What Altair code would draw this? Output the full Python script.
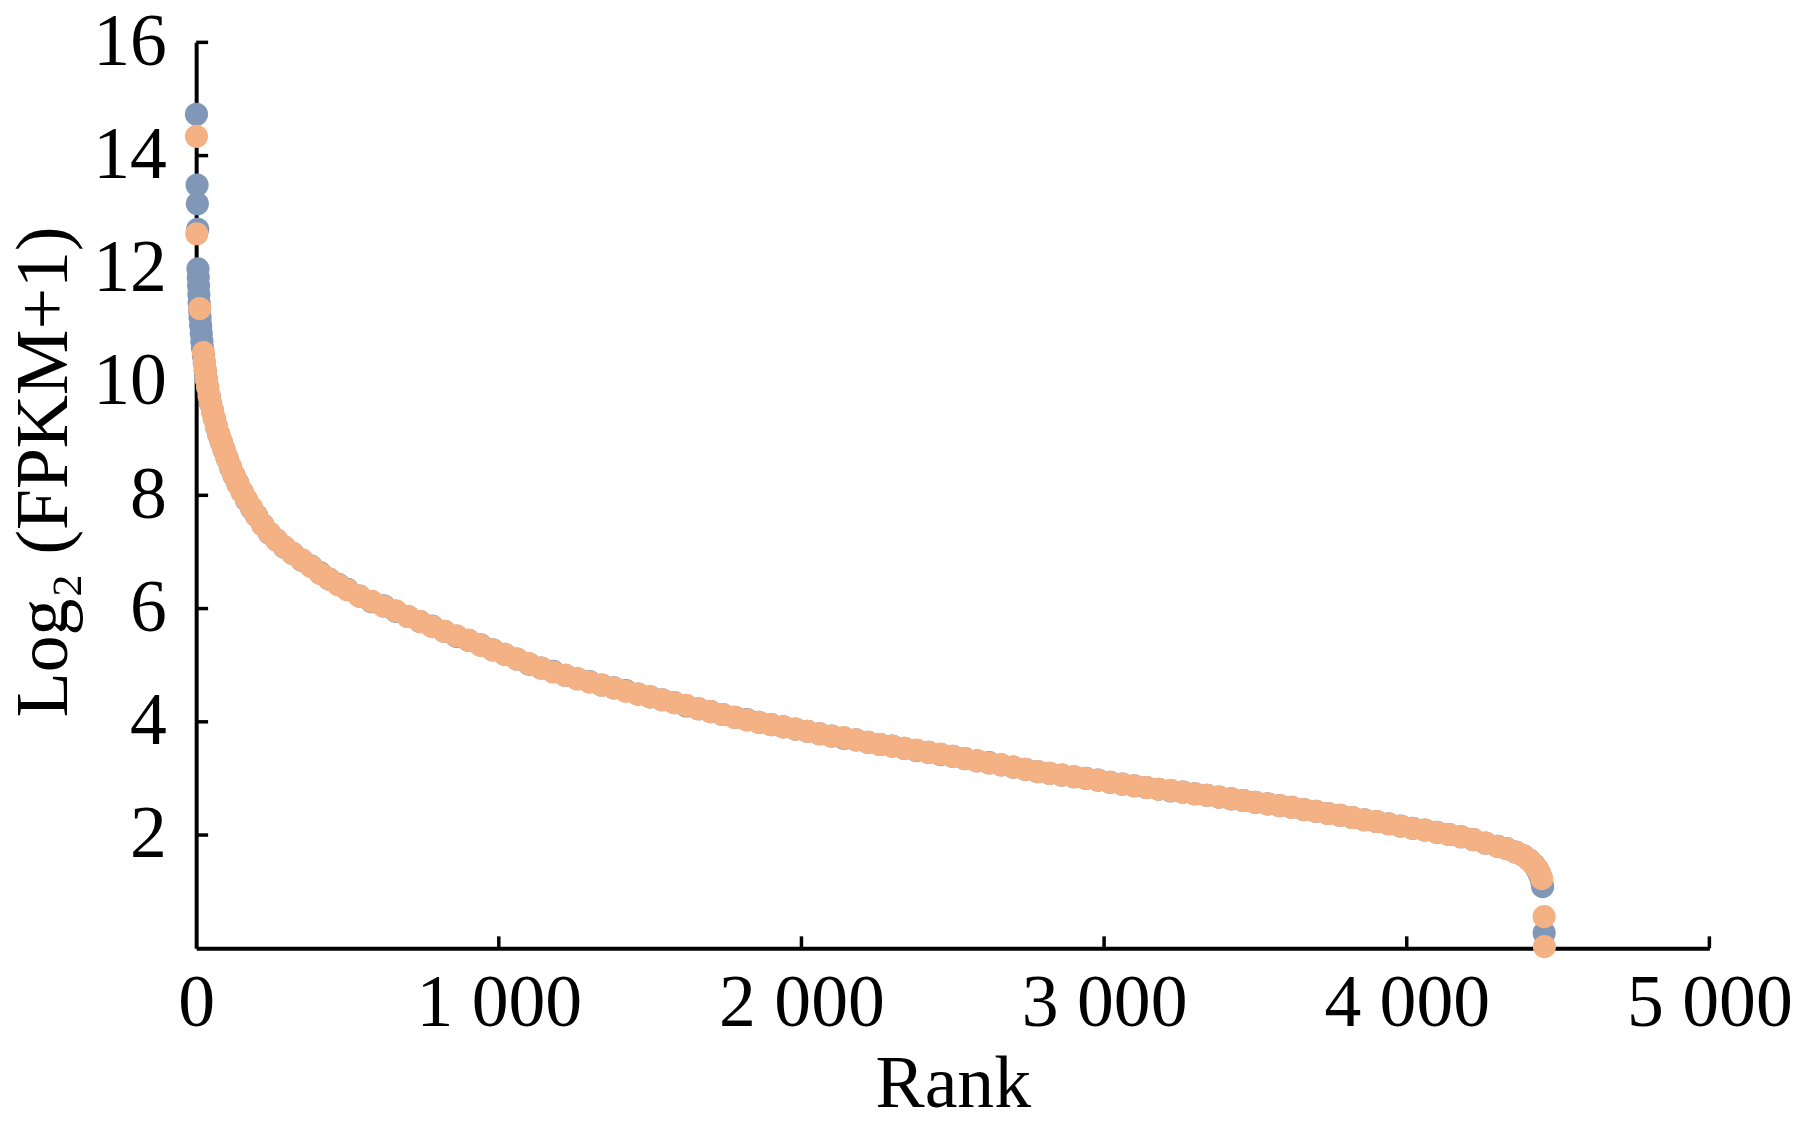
import altair as alt
import pandas as pd

# ---- data ----
blue_rank = [1, 3, 4, 5, 6, 7, 8, 9, 10, 11, 13, 15, 17, 19, 21, 24, 27, 30, 34, 38, 43, 48, 54, 60, 67, 75, 83, 92,
             102, 113, 125, 138, 152, 167, 183, 200, 220, 242, 266, 292, 320, 350, 380, 410, 440, 470, 500, 540, 580,
             620, 660, 700, 740, 780, 820, 860, 900, 940, 980, 1020, 1060, 1100, 1140, 1180, 1220, 1260, 1300, 1340,
             1380, 1420, 1460, 1500, 1540, 1580, 1620, 1660, 1700, 1740, 1780, 1820, 1860, 1900, 1940, 1980, 2020,
             2060, 2100, 2140, 2180, 2220, 2260, 2300, 2340, 2380, 2420, 2460, 2500, 2540, 2580, 2620, 2660, 2700,
             2740, 2780, 2820, 2860, 2900, 2940, 2980, 3020, 3060, 3100, 3140, 3180, 3220, 3260, 3300, 3340, 3380,
             3420, 3460, 3500, 3540, 3580, 3620, 3660, 3700, 3740, 3780, 3820, 3860, 3900, 3940, 3980, 4020, 4060,
             4100, 4140, 4180, 4220, 4260, 4300, 4330, 4360, 4385, 4405, 4420, 4432, 4440, 4446, 4449, 4454]
blue_value = [14.73, 13.48, 13.15, 12.70, 12.00, 11.85, 11.70, 11.55, 11.40, 11.27, 11.14, 11.00, 10.86, 10.72,
              10.60, 10.47, 10.34, 10.20, 10.04, 9.90, 9.75, 9.62, 9.49, 9.36, 9.21, 9.07, 8.94, 8.81,
              8.66, 8.50, 8.35, 8.21, 8.06, 7.91, 7.77, 7.64, 7.48, 7.33, 7.21, 7.08, 6.97, 6.85, 6.75, 6.63,
              6.52, 6.43, 6.34, 6.22, 6.12, 6.05, 5.95, 5.86, 5.77, 5.69, 5.60, 5.51, 5.44, 5.36, 5.27, 5.19,
              5.11, 5.02, 4.95, 4.89, 4.82, 4.76, 4.71, 4.65, 4.60, 4.55, 4.49, 4.44, 4.39, 4.34, 4.28, 4.23,
              4.18, 4.13, 4.08, 4.04, 3.99, 3.95, 3.91, 3.87, 3.83, 3.79, 3.75, 3.71, 3.68, 3.64, 3.60, 3.57,
              3.53, 3.49, 3.46, 3.42, 3.39, 3.35, 3.31, 3.28, 3.24, 3.20, 3.16, 3.12, 3.09, 3.06, 3.03, 3.00,
              2.97, 2.93, 2.90, 2.87, 2.84, 2.81, 2.78, 2.76, 2.73, 2.70, 2.67, 2.64, 2.61, 2.58, 2.55, 2.52,
              2.49, 2.45, 2.42, 2.38, 2.35, 2.31, 2.27, 2.24, 2.20, 2.16, 2.12, 2.09, 2.05, 2.01, 1.97, 1.92,
              1.86, 1.80, 1.76, 1.70, 1.64, 1.56, 1.48, 1.38, 1.28, 1.18, 1.09, 0.27]

orange_rank = [1, 2, 12, 24, 27, 30, 34, 38, 43, 48, 54, 60, 67, 75, 83, 92, 102, 113, 125, 138, 152, 167, 183, 200,
               220, 242, 266, 292, 320, 350, 380, 410, 440, 470, 500, 540, 580, 620, 660, 700, 740, 780, 820, 860,
               900, 940, 980, 1020, 1060, 1100, 1140, 1180, 1220, 1260, 1300, 1340, 1380, 1420, 1460, 1500, 1540,
               1580, 1620, 1660, 1700, 1740, 1780, 1820, 1860, 1900, 1940, 1980, 2020, 2060, 2100, 2140, 2180, 2220,
               2260, 2300, 2340, 2380, 2420, 2460, 2500, 2540, 2580, 2620, 2660, 2700, 2740, 2780, 2820, 2860, 2900,
               2940, 2980, 3020, 3060, 3100, 3140, 3180, 3220, 3260, 3300, 3340, 3380, 3420, 3460, 3500, 3540, 3580,
               3620, 3660, 3700, 3740, 3780, 3820, 3860, 3900, 3940, 3980, 4020, 4060, 4100, 4140, 4180, 4220, 4260,
               4300, 4330, 4360, 4385, 4405, 4420, 4432, 4440, 4446, 4454, 4455]
orange_value = [14.34, 12.62, 11.30, 10.52, 10.36, 10.22, 10.05, 9.92, 9.76, 9.62, 9.48, 9.36, 9.22, 9.08, 8.95,
                8.80, 8.66, 8.51, 8.36, 8.20, 8.06, 7.92, 7.78, 7.63, 7.48, 7.34, 7.21, 7.09, 6.97, 6.86, 6.74,
                6.62, 6.52, 6.42, 6.33, 6.22, 6.13, 6.04, 5.96, 5.86, 5.77, 5.68, 5.60, 5.52, 5.44, 5.35, 5.27,
                5.19, 5.11, 5.03, 4.95, 4.88, 4.82, 4.76, 4.70, 4.65, 4.60, 4.54, 4.49, 4.44, 4.39, 4.34, 4.29,
                4.23, 4.18, 4.13, 4.08, 4.03, 3.99, 3.95, 3.91, 3.87, 3.83, 3.79, 3.75, 3.72, 3.68, 3.64, 3.60,
                3.57, 3.53, 3.50, 3.46, 3.43, 3.39, 3.35, 3.31, 3.27, 3.24, 3.20, 3.16, 3.12, 3.09, 3.06, 3.03,
                3.00, 2.97, 2.93, 2.90, 2.87, 2.84, 2.81, 2.79, 2.76, 2.73, 2.70, 2.67, 2.64, 2.61, 2.58, 2.55,
                2.52, 2.49, 2.45, 2.42, 2.38, 2.35, 2.31, 2.27, 2.24, 2.20, 2.16, 2.12, 2.09, 2.05, 2.01, 1.97,
                1.92, 1.86, 1.80, 1.76, 1.70, 1.64, 1.56, 1.48, 1.40, 1.32, 1.23, 0.56, 0.03]

x_ticks = [1000, 2000, 3000, 4000, 5000]
y_ticks = [2, 4, 6, 8, 10, 12, 14, 16]

BLUE = "#8097B8"
ORANGE = "#F4B183"
FONT = "Liberation Serif"

blue_df = pd.DataFrame({"rank": blue_rank, "value": blue_value})
orange_df = pd.DataFrame({"rank": orange_rank, "value": orange_value})
xt_df = pd.DataFrame({"t": x_ticks})
yt_df = pd.DataFrame({"t": y_ticks})

W, H = 1520, 910
xscale = alt.Scale(domain=[0, 5000], nice=False, zero=False)
yscale = alt.Scale(domain=[0, 16], nice=False)

x_axis = alt.Axis(
    title="Rank", values=[0, 1000, 2000, 3000, 4000, 5000],
    labelExpr="replace(format(datum.value, ','), ',', ' ')",
    grid=False, ticks=False, tickSize=0, domain=True, domainColor="black", domainWidth=4,
    labelFont=FONT, labelFontSize=74, labelColor="black", labelPadding=20,
    titleFont=FONT, titleFontSize=74, titleFontWeight="normal", titleColor="black", titlePadding=8,
    labelFlush=False, labelOverlap=False,
)
y_axis = alt.Axis(
    title="Log₂ (FPKM+1)", values=y_ticks, format="d",
    grid=False, ticks=False, tickSize=0, domain=True, domainColor="black", domainWidth=4,
    labelFont=FONT, labelFontSize=74, labelColor="black", labelPadding=30,
    titleFont=FONT, titleFontSize=74, titleFontWeight="normal", titleColor="black", titlePadding=10,
    titleY=H / 2 - 24,
    labelFlush=False, labelOverlap=False,
)

blue = alt.Chart(blue_df).mark_circle(size=540, opacity=1, color=BLUE).encode(
    x=alt.X("rank:Q", scale=xscale, axis=x_axis),
    y=alt.Y("value:Q", scale=yscale, axis=y_axis),
)
orange = alt.Chart(orange_df).mark_circle(size=540, opacity=1, color=ORANGE).encode(
    x=alt.X("rank:Q", scale=xscale),
    y=alt.Y("value:Q", scale=yscale),
)
xticks = alt.Chart(xt_df).mark_rule(color="black", strokeWidth=3.5).encode(
    x=alt.X("t:Q", scale=xscale),
    y=alt.value(H),
    y2=alt.value(H - 12),
)
yticks = alt.Chart(yt_df).mark_rule(color="black", strokeWidth=3.5).encode(
    y=alt.Y("t:Q", scale=yscale),
    x=alt.value(0),
    x2=alt.value(12),
)

chart = alt.layer(xticks, yticks, blue, orange).properties(
    width=W, height=H,
    autosize=alt.AutoSizeParams(type="none"),
    padding={"left": 189, "top": 32, "right": 86, "bottom": 180},
    view=alt.ViewBackground(stroke="transparent", strokeWidth=0),
).configure_view(strokeWidth=0, stroke="transparent").configure(background="white")

chart.save("out.html", embed_options={"renderer": "svg", "actions": False})
